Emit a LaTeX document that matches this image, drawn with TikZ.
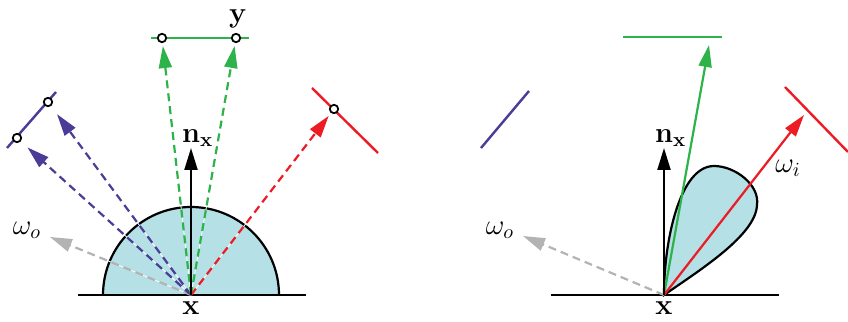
\documentclass[tikz,border=0pt]{standalone}
\usepackage{amsmath,amssymb}
\usetikzlibrary{arrows.meta,positioning}
\definecolor{lobecyan}{HTML}{B4E0E6}
\definecolor{pathgreen}{HTML}{2DB34A}
\definecolor{pathblue}{HTML}{4B3C97}
\definecolor{pathred}{HTML}{ED1C24}
\definecolor{dirgray}{HTML}{B3B3B3}

\begin{document}
\begin{tikzpicture}[x=0.5pt,y=0.5pt,every node/.style={font=\fontsize{14.5}{17}\selectfont},
    ray/.style={line width=1.1pt,-{Triangle[length=11pt,width=6.5pt]}},
    dray/.style={ray,dash pattern=on 4pt off 2.5pt},
    halo/.style={draw=white,line width=0.4pt},
    emitter/.style={line width=1.2pt},
    vtx/.style={circle,draw=black,fill=white,line width=0.9pt,inner sep=0pt,minimum size=4.2pt}]
  \useasboundingbox (0,0) rectangle (848,322);

  % left: hemisphere sampling
  \coordinate (X1) at (191,27);
  \filldraw[fill=lobecyan,line width=1.1pt] (103,27) arc[start angle=180,end angle=0,radius=88];
  \draw[line width=1.1pt] (78,27) -- (306,27);
  \node[below=0pt of X1] (x1lab) {$\mathbf{x}$};

  \draw[emitter,pathgreen] (151,284) -- (249,284);
  \draw[emitter,pathblue] (7,174) -- (56,230);
  \draw[emitter,pathred] (312,234) -- (378,169);
  \foreach \n/\p in {g1/{162,284},g2/{236,284},b1/{17,184},b2/{48,220},r1/{334,213}}
    \node[vtx] (\n) at (\p) {};
  \node at (238,303) (ylab) {$\mathbf{y}$};

  \coordinate (wo1) at (50,85);
  \node at (27,92) (wo1lab) {$\omega_o$};
  \foreach \t/\c/\s in {wo1/dirgray/0pt,b1/pathblue/4.5pt,b2/pathblue/5pt,g1/pathgreen/1.5pt,g2/pathgreen/1.5pt,r1/pathred/1.8pt} {
    \draw[halo,shorten >=\s] (X1) -- (\t);
    \draw[dray,\c,shorten >=\s] (X1) -- (\t);
  }
  \coordinate (n1) at (191,174);
  \draw[ray] (X1) -- (n1);
  \node[above right=-3pt and -8pt of n1] (n1lab) {$\mathbf{n}_{\mathbf{x}}$};

  % right: BRDF lobe
  \coordinate (X2) at (664,27);
  \filldraw[fill=lobecyan,line width=1.1pt] (X2) .. controls (664,82) and (680,156) .. (714,156)
    .. controls (735,156) and (760,137) .. (757,117)
    .. controls (756,87) and (700,52) .. (X2) -- cycle;
  \draw[line width=1.1pt] (551,27) -- (779,27);
  \node[below=0pt of X2] (x2lab) {$\mathbf{x}$};

  \draw[emitter,pathgreen] (623,285) -- (722,285);
  \draw[emitter,pathblue] (481,174) -- (529,231);
  \draw[emitter,pathred] (785,235) -- (848,170);

  \coordinate (wo2) at (523,86);
  \node at (500,92) (wo2lab) {$\omega_o$};
  \draw[dray,dirgray] (X2) -- (wo2);
  \coordinate (g3) at (709,277);
  \draw[ray,pathgreen] (X2) -- (g3);
  \coordinate (r3) at (804,207);
  \draw[ray,pathred] (X2) -- (r3);
  \node at (788,154) (wilab) {$\omega_i$};
  \coordinate (n2) at (664,174);
  \draw[ray] (X2) -- (n2);
  \node[above right=-3pt and -8pt of n2] (n2lab) {$\mathbf{n}_{\mathbf{x}}$};
\end{tikzpicture}
\end{document}
